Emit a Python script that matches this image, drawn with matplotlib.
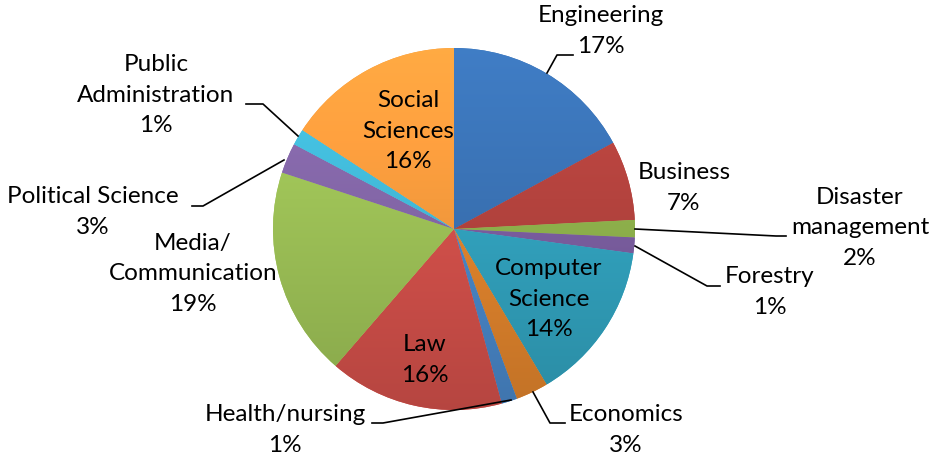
import numpy as np
import matplotlib
matplotlib.use("Agg")
import matplotlib.pyplot as plt
from matplotlib.colors import to_rgb

# ---- data (share of respondents per field) ----
fields = ["Engineering", "Business", "Disaster\nmanagement", "Forestry",
          "Computer\nScience", "Economics", "Health/nursing", "Law",
          "Media/\nCommunication", "Political Science",
          "Public\nAdministration", "Social\nSciences"]
shares = [17.1, 7.1, 1.55, 1.4, 14.3, 2.9, 1.4, 15.6, 18.7, 2.7, 1.45, 15.8]
colors = ["#3A72B4", "#B4433E", "#8FB24C", "#7B5EA0", "#32A3BF", "#E2852D",
          "#4A88CA", "#D4514B", "#9EC257", "#8467A8", "#42BAD9", "#F69B3D"]

plt.rcParams["font.family"] = ["Lato", "DejaVu Sans"]

W, H = 935, 459
fig = plt.figure(figsize=(W / 100, H / 100), dpi=100)
ax = fig.add_axes([0, 0, 1, 1])

cx, cy, r = 454, H - 229, 181
wedges, _ = ax.pie(shares, colors=colors, startangle=90, counterclock=False,
                   center=(cx, cy), radius=r, wedgeprops=dict(linewidth=0))
ax.set_xlim(0, W)
ax.set_ylim(0, H)
ax.set_aspect("auto")
ax.axis("off")

# soft vertical shading like the office chart style
grad = np.linspace(1.10, 0.86, 256)
for w, c in zip(wedges, colors):
    base = np.array(to_rgb(c))
    img = np.clip(grad[:, None, None] * base[None, None, :], 0, 1)
    im = ax.imshow(img, extent=(cx - r, cx + r, cy - r, cy + r),
                   origin="upper", aspect="auto", interpolation="bilinear",
                   zorder=2)
    im.set_clip_path(w)
ax.set_xlim(0, W)
ax.set_ylim(0, H)

total = sum(shares)
pct = [f"{s / total * 100:.0f}%" for s in shares]

# label centres (pixel coords from top) and leader lines
label_pos = {
    0: (601, 31), 1: (684, 188), 2: (860, 228), 3: (770, 292),
    4: (549, 299), 5: (626, 430), 6: (285, 430), 7: (425, 360),
    8: (193, 274), 9: (93, 212), 10: (156, 95), 11: (408, 131),
}
leaders = {
    0: [(547, 73), (557, 55), (573, 55)],
    2: [(635, 229), (776, 236), (786, 236)],
    3: [(635, 246), (707, 286), (720, 286)],
    5: [(533, 392), (550, 423), (565, 423)],
    6: [(511, 400), (383, 423), (372, 423)],
    9: [(284, 160), (203, 206), (192, 206)],
    10: [(298, 136), (263, 104), (246, 104)],
}
for i, (x, y) in label_pos.items():
    ax.text(x, H - y, f"{fields[i]}\n{pct[i]}", ha="center", va="center",
            fontsize=17.5, linespacing=1.55, color="black", zorder=5)
for i, pts in leaders.items():
    xs = [p[0] for p in pts]
    ys = [H - p[1] for p in pts]
    ax.plot(xs, ys, color="black", linewidth=1.2, zorder=4)

fig.savefig("out.png", dpi=100)
